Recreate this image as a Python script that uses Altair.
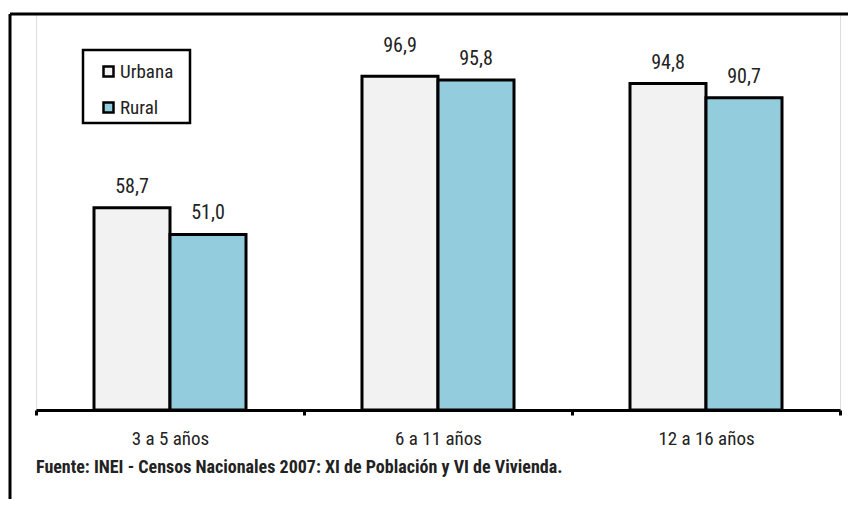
import altair as alt
import pandas as pd

categories = ["3 a 5 años", "6 a 11 años", "12 a 16 años"]
series = ["Urbana", "Rural"]
urbana = [58.7, 96.9, 94.8]
rural = [51.0, 95.8, 90.7]
source_note = "Fuente: INEI - Censos Nacionales  2007: XI de Población y VI de Vivienda."

rows = []
for c, u, r in zip(categories, urbana, rural):
    rows.append({"cat": c, "serie": "Urbana", "valor": u})
    rows.append({"cat": c, "serie": "Rural", "valor": r})
df = pd.DataFrame(rows)
df["etiqueta"] = df["valor"].map(lambda v: f"{v:.1f}".replace(".", ","))

FONT = "Liberation Sans Narrow, Roboto Condensed, DejaVu Sans Condensed, Arial Narrow, sans-serif"
W, H = 804, 396

xenc = alt.X("cat:N", sort=categories, title=None,
             scale=alt.Scale(paddingInner=0, paddingOuter=0),
             axis=alt.Axis(labelAngle=0, tickBand="extent", tickSize=5, tickWidth=3,
                           tickColor="black", domainColor="black", domainWidth=3,
                           labelFont=FONT, labelFontSize=19, labelColor="#222",
                           labelPadding=14))
yenc = alt.Y("valor:Q", scale=alt.Scale(domain=[0, 115], nice=False, zero=True), axis=None)
xoff = alt.XOffset("serie:N", sort=series,
                   scale=alt.Scale(paddingInner=0, paddingOuter=0.763))
color = alt.Color("serie:N", sort=series,
                  scale=alt.Scale(domain=series, range=["#f2f2f2", "#93cddd"]),
                  legend=alt.Legend(title=None, orient="none", legendX=63, legendY=48,
                                    padding=0, rowPadding=15, labelFont=FONT,
                                    labelFontSize=19, labelColor="#222", labelOffset=2,
                                    symbolType="square", symbolSize=100,
                                    symbolStrokeColor="black", symbolStrokeWidth=2.5))

bars = alt.Chart(df).mark_bar(stroke="black", strokeWidth=3).encode(
    x=xenc, y=yenc, xOffset=xoff, color=color)

label_enc = dict(x=alt.X("cat:N", sort=categories), y="valor:Q", xOffset=xoff,
                 text="etiqueta:N")
is_max = "datum.valor == 96.9"
labels = alt.Chart(df).transform_filter("!(" + is_max + ")").mark_text(
    dy=-11, font=FONT, fontSize=20, color="#222", baseline="bottom").encode(**label_enc)
label_max = alt.Chart(df).transform_filter(is_max).mark_text(
    dy=-20, font=FONT, fontSize=20, color="#222", baseline="bottom").encode(**label_enc)

one = pd.DataFrame({"t": [source_note]})
frame_top = alt.Chart(one).mark_rule(color="black", strokeWidth=3).encode(
    x=alt.value(-26), x2=alt.value(830), y=alt.value(0))
frame_left = alt.Chart(one).mark_rule(color="black", strokeWidth=3).encode(
    x=alt.value(-26), y=alt.value(0), y2=alt.value(500))
legend_box = alt.Chart(one).mark_rect(fill=None, stroke="black", strokeWidth=2.5).encode(
    x=alt.value(47), x2=alt.value(154), y=alt.value(36), y2=alt.value(109))
note = alt.Chart(one).mark_text(align="left", baseline="middle", font=FONT,
                                fontSize=18, fontWeight="bold", color="#222").encode(
    x=alt.value(0), y=alt.value(454), text="t:N")

chart = alt.layer(bars, labels, label_max, legend_box, frame_top, frame_left, note).properties(
    width=W, height=H,
    autosize=alt.AutoSizeParams(type="none"),
    padding={"left": 28, "top": 6, "right": 8, "bottom": 89},
).configure_view(stroke=None).configure(background="white")

chart.save("out.html", embed_options={"renderer": "svg", "actions": False})
